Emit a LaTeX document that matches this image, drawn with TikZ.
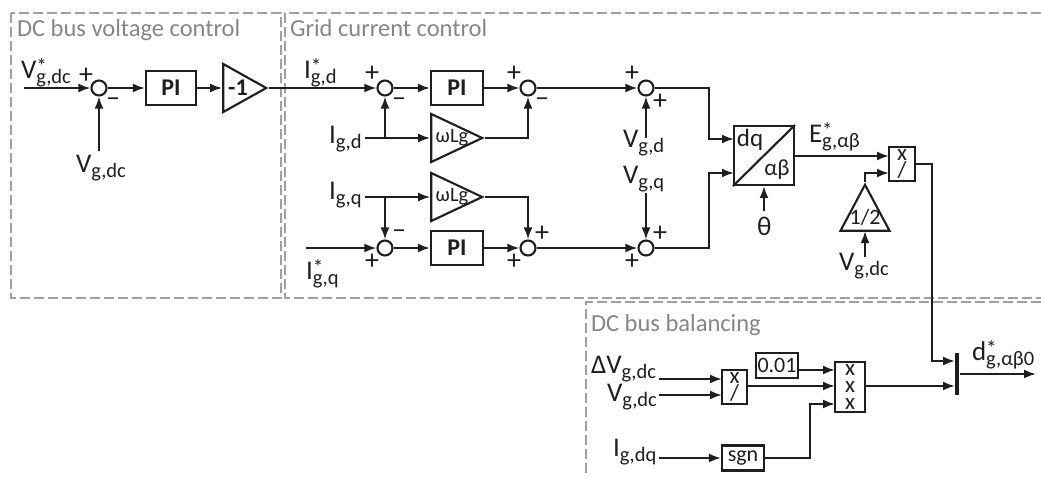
\documentclass[tikz,border=0pt]{standalone}
\usepackage{fontspec}
\setmainfont{Carlito}
\usetikzlibrary{shapes.geometric,arrows.meta}
\definecolor{inkline}{HTML}{1E1E1E}
\definecolor{framegray}{HTML}{A0A0A0}
\definecolor{titlegray}{HTML}{858585}
\newcommand{\sigl}[3][]{#2\rlap{\raisebox{5pt}{\fontsize{21}{21}\selectfont #1}}\raisebox{-5pt}{\fontsize{20.5}{21}\selectfont #3}}

\begin{document}
\begin{tikzpicture}[
  x=1pt, y=-1pt,
  line width=2.1pt, inkline,
  arr/.style={-{Latex[length=12pt,width=9pt]}},
  frame/.style={draw=framegray, line width=1.7pt, dash pattern=on 10pt off 4pt},
  grouptitle/.style={anchor=base west, inner sep=0pt, text=titlegray, font=\fontsize{24.5}{26}\selectfont},
  siglabel/.style={anchor=base west, inner sep=0pt, font=\fontsize{27}{28}\selectfont},
  sumnode/.style={circle, draw, fill=white, inner sep=0pt, minimum size=15pt},
  signmark/.style={inner sep=0pt, font=\fontsize{28}{28}\selectfont},
  ctrlbox/.style={rectangle, draw, inner sep=0pt, minimum width=#1, minimum height=34pt, align=center, font=\fontsize{24}{24}\selectfont},
  gain/.style={isosceles triangle, isosceles triangle stretches, draw, inner sep=0pt, minimum width=48pt, minimum height=#1, anchor=apex}
]
  \useasboundingbox (0,0) rectangle (1041,477);

  % group frames
  \draw[frame] (11,13) rectangle (281,298);
  \draw[frame] (1041,13) -- (285,13) -- (285,298) -- (1041,298);
  \draw[frame] (1041,302) -- (586,302) -- (586,477);
  \node[grouptitle] (titleDc) at (16,36) {DC bus voltage control};
  \node[grouptitle] (titleGrid) at (289,36) {Grid current control};
  \node[grouptitle] (titleBal) at (590,331) {DC bus balancing};

  % DC bus voltage loop
  \node[sumnode] (sDc) at (99,88) {};
  \node[ctrlbox=50pt, font=\fontsize{24}{24}\selectfont\bfseries] (piDc) at (171,88) {PI};
  \node[gain=43pt] (gainDc) at (269,88) {};
  \node[signmark, font=\fontsize{24}{24}\selectfont\bfseries] (lGainDc) at (238,88) {-1};
  \node[siglabel] (lVdcRef) at (20,78) {\sigl[*]{V}{g,dc}};
  \node[siglabel] (lVdc) at (75,172) {\sigl{V}{g,dc}};
  \node[signmark] (m1) at (86,76) {+};
  \node[signmark] (m2) at (113,102) {–};
  \coordinate (inDc) at (24,88);
  \coordinate (upDc) at (99,151);
  \draw[arr] (inDc) -- (sDc);
  \draw[arr] (upDc) -- (sDc);
  \draw[arr] (sDc) -- (piDc);
  \draw[arr] (piDc) -- (gainDc);

  % grid current loops
  \node[sumnode] (sA) at (385,88) {};
  \node[sumnode] (sB) at (528,88) {};
  \node[sumnode] (sC) at (646,88) {};
  \node[sumnode] (sD) at (385,248) {};
  \node[sumnode] (sE) at (528,248) {};
  \node[sumnode] (sF) at (646,248) {};
  \node[ctrlbox=52pt, font=\fontsize{24}{24}\selectfont\bfseries] (piD) at (457,88) {PI};
  \node[ctrlbox=52pt, font=\fontsize{24}{24}\selectfont\bfseries] (piQ) at (457,248) {PI};
  \node[gain=51pt] (wlD) at (485,138) {};
  \node[gain=51pt] (wlQ) at (485,197) {};
  \node[signmark, font=\fontsize{20.5}{21}\selectfont] (lWlD) at (452,138) {ωLg};
  \node[signmark, font=\fontsize{20.5}{21}\selectfont] (lWlQ) at (452,197) {ωLg};
  \node[siglabel] (lIdRef) at (303,78) {\sigl[*]{I}{g,d}};
  \node[siglabel] (lId) at (328,143) {\sigl{I}{g,d}};
  \node[siglabel] (lIq) at (328,199) {\sigl{I}{g,q}};
  \node[siglabel] (lIqRef) at (305,279) {\sigl[*]{I}{g,q}};
  \node[siglabel] (lVd) at (622,147) {\sigl{V}{g,d}};
  \node[siglabel] (lVq) at (622,183) {\sigl{V}{g,q}};
  \node[signmark] (m3) at (372,74) {+};
  \node[signmark] (m4) at (399,102) {–};
  \node[signmark] (m5) at (514,74) {+};
  \node[signmark] (m6) at (542,102) {–};
  \node[signmark] (m7) at (632,74) {+};
  \node[signmark] (m8) at (660,102) {+};
  \node[signmark] (m9) at (399,234) {–};
  \node[signmark] (m10) at (372,262) {+};
  \node[signmark] (m11) at (542,234) {+};
  \node[signmark] (m12) at (514,262) {+};
  \node[signmark] (m13) at (660,234) {+};
  \node[signmark] (m14) at (632,262) {+};
  \coordinate (inId) at (365,138);
  \coordinate (inIq) at (365,197);
  \coordinate (inIqRef) at (306,248);
  \coordinate (tapD) at (385,138);
  \coordinate (tapQ) at (385,197);
  \coordinate (upVd) at (646,138);
  \coordinate (downVq) at (646,193);
  \draw[arr] (gainDc.apex) -- (sA);
  \draw[arr] (sA) -- (piD);
  \draw[arr] (piD) -- (sB);
  \draw[arr] (sB) -- (sC);
  \draw[arr] (inId) -- (wlD.west |- inId);
  \draw[arr] (tapD) -- (sA);
  \draw[arr] (wlD.apex) -| (sB);
  \draw[arr] (inIq) -- (wlQ.west |- inIq);
  \draw[arr] (tapQ) -- (sD);
  \draw[arr] (wlQ.apex) -| (sE);
  \draw[arr] (inIqRef) -- (sD);
  \draw[arr] (sD) -- (piQ);
  \draw[arr] (piQ) -- (sE);
  \draw[arr] (sE) -- (sF);
  \draw[arr] (upVd) -- (sC);
  \draw[arr] (downVq) -- (sF);

  % dq to alpha beta
  \node[rectangle, draw, inner sep=0pt, minimum width=60pt, minimum height=59pt] (park) at (764,155.5) {};
  \draw (park.south west) -- (park.north east);
  \node[signmark, font=\fontsize{25}{25}\selectfont] (lDq) at (750,140) {dq};
  \node[signmark, font=\fontsize{23}{23}\selectfont] (lAb) at (777,170) {αβ};
  \node[siglabel] (lTheta) at (756,235) {θ};
  \node[siglabel] (lEref) at (808,142) {\sigl[*]{E}{g,αβ}};
  \node[ctrlbox=26pt, font=\fontsize{23}{17}\selectfont] (divE) at (902,164) {x\\/};
  \node[gain=46pt, shape border rotate=90, minimum width=49pt] (half) at (865,182) {};
  \node[signmark, font=\fontsize{22}{22}\selectfont] (lHalf) at (865,217) {1/2};
  \node[siglabel] (lVdcHalf) at (838,270) {\sigl{V}{g,dc}};
  \coordinate (jD) at (709,139);
  \coordinate (jQ) at (709,173);
  \coordinate (parkD) at (734,139);
  \coordinate (parkQ) at (734,173);
  \coordinate (upTheta) at (764,211);
  \coordinate (parkOut) at (794,156);
  \coordinate (divTop) at (889,156);
  \coordinate (bendHalf) at (865,173);
  \coordinate (divBot) at (889,173);
  \coordinate (upHalf) at (865,257);
  \coordinate (baseHalf) at (865,231);
  \draw[arr] (sC) -| (jD) -- (parkD);
  \draw[arr] (sF) -| (jQ) -- (parkQ);
  \draw[arr] (upTheta) -- (park);
  \draw[arr] (parkOut) -- (divTop);
  \draw[arr] (half.apex) -- (bendHalf) -- (divBot);
  \draw[arr] (upHalf) -- (baseHalf);

  % DC bus balancing
  \node[ctrlbox=25pt, font=\fontsize{23}{17}\selectfont] (divB) at (734.5,387) {x\\/};
  \node[ctrlbox=42pt, minimum height=25pt, font=\fontsize{22}{22}\selectfont] (gainB) at (777,365.5) {0.01};
  \node[ctrlbox=30pt, minimum height=50pt, font=\fontsize{23}{17}\selectfont] (mulB) at (850,387) {x\\x\\x};
  \node[ctrlbox=42pt, minimum height=25pt, font=\fontsize{22}{22}\selectfont] (sgnB) at (743,458) {sgn};
  \node[rectangle, fill=inkline, inner sep=0pt, minimum width=4pt, minimum height=42pt] (sumBar) at (957,374) {};
  \node[siglabel] (lDv) at (590,373) {Δ\sigl{V}{g,dc}};
  \node[siglabel] (lVb) at (606,401) {\sigl{V}{g,dc}};
  \node[siglabel] (lIdq) at (612,456) {\sigl{I}{g,dq}};
  \node[siglabel] (lDref) at (971,360) {\sigl[*]{d}{g,αβ0}};
  \coordinate (inDv) at (659,379);
  \coordinate (divA) at (722,379);
  \coordinate (inVb) at (659,395);
  \coordinate (divC) at (722,395);
  \coordinate (inIdq) at (659,458);
  \coordinate (mulA) at (835,370);
  \coordinate (mulM) at (835,386);
  \coordinate (mulC) at (835,404);
  \coordinate (bendSgn) at (810,404);
  \coordinate (divOut) at (747,386);
  \coordinate (gainOut) at (798,370);
  \coordinate (mulOut) at (865,386);
  \coordinate (downE) at (932,361);
  \coordinate (barTop) at (955,361);
  \coordinate (barMid) at (955,386);
  \coordinate (outEnd) at (1036,374);
  \coordinate (divEOut) at (915,164);
  \draw[arr] (inDv) -- (divA);
  \draw[arr] (inVb) -- (divC);
  \draw[arr] (inIdq) -- (sgnB);
  \draw[arr] (gainOut) -- (mulA);
  \draw[arr] (divOut) -- (mulM);
  \draw[arr] (sgnB) -| (bendSgn) -- (mulC);
  \draw[arr] (mulOut) -- (barMid);
  \draw[arr] (divEOut) -| (downE) -- (barTop);
  \draw[arr] (sumBar) -- (outEnd);
\end{tikzpicture}
\end{document}
